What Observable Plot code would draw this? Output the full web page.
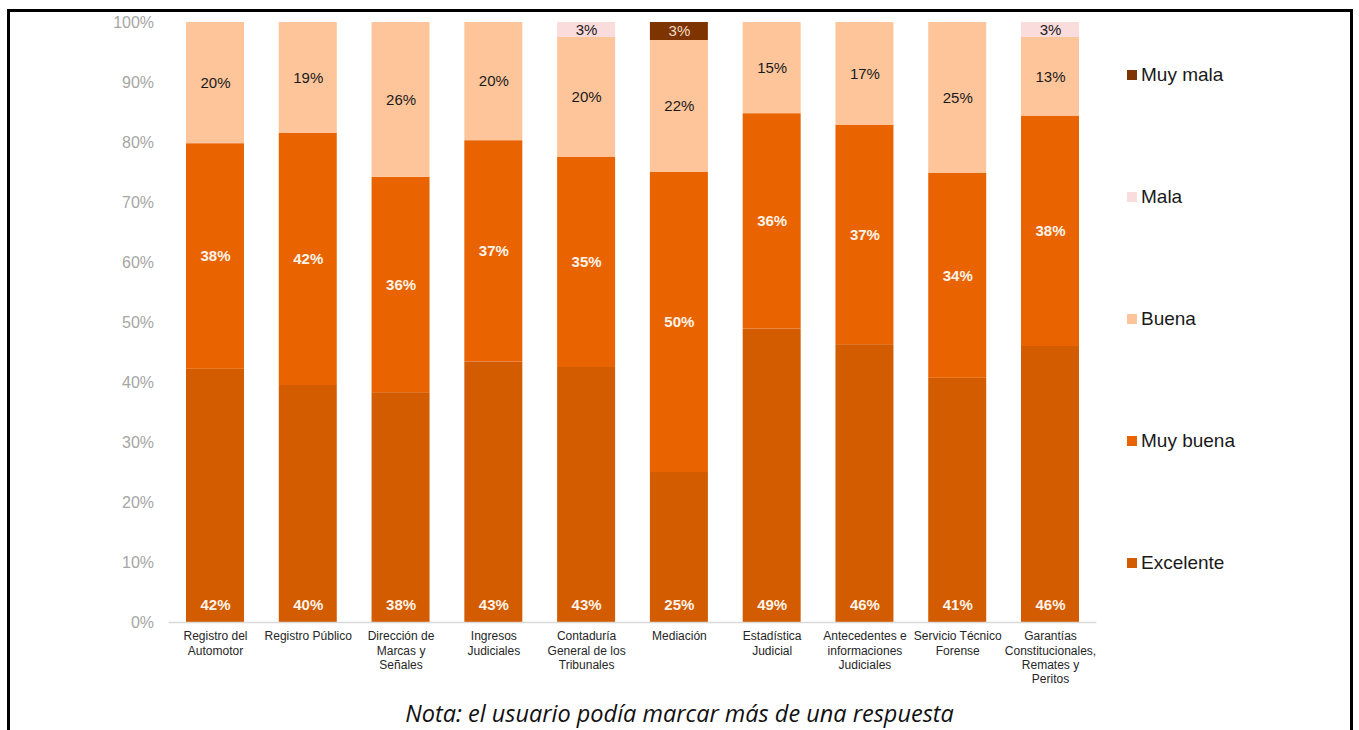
<!DOCTYPE html>
<html>
<head>
<meta charset="utf-8">
<script src="https://cdn.jsdelivr.net/npm/d3@7"></script>
<script src="https://cdn.jsdelivr.net/npm/@observablehq/plot@0.6"></script>
<style>
  html, body { margin: 0; padding: 0; background: #fff; }
  body { width: 1359px; height: 730px; position: relative; overflow: hidden; font-family: "Liberation Sans", Arial, sans-serif; }
  #frame { position: absolute; left: 7px; top: 9px; width: 1346px; height: 760px; border: 3px solid #000; box-sizing: border-box; }
  #chart { position: absolute; left: 0; top: 0; }
  #legend { position: absolute; left: 1127px; top: 0; }
  .item { position: absolute; left: 0; white-space: nowrap; font-size: 19px; color: #1a1a1a; display: flex; align-items: center; height: 22px; }
  .sw { width: 10px; height: 10px; margin-right: 4px; }
  #note { position: absolute; left: 0; width: 1359px; top: 697px; text-align: center; font-family: "Open Sans", sans-serif; font-style: italic; font-size: 23.5px; line-height: 32px; color: #111; }
</style>
</head>
<body>
<div id="frame"></div>
<div id="chart"></div>
<div id="legend"></div>
<div id="note">Nota: el usuario podía marcar más de una respuesta</div>
<script>
const categories = ["Registro del Automotor", "Registro Público", "Dirección de Marcas y Señales", "Ingresos Judiciales", "Contaduría General de los Tribunales", "Mediación", "Estadística Judicial", "Antecedentes e informaciones Judiciales", "Servicio Técnico Forense", "Garantías Constitucionales, Remates y Peritos"];
const tickLabels = ["Registro del\nAutomotor", "Registro Público", "Dirección de\nMarcas y\nSeñales", "Ingresos\nJudiciales", "Contaduría\nGeneral de los\nTribunales", "Mediación", "Estadística\nJudicial", "Antecedentes e\ninformaciones\nJudiciales", "Servicio Técnico\nForense", "Garantías\nConstitucionales,\nRemates y\nPeritos"];
const series = ["Excelente", "Muy buena", "Buena", "Mala", "Muy mala"];
const excelente = [42.2, 39.5, 38.3, 43.4, 42.5, 25.0, 48.9, 46.3, 40.7, 46.0];
const muyBuena  = [37.6, 42.0, 35.9, 36.9, 35.0, 50.0, 35.9, 36.6, 34.2, 38.4];
const buena     = [20.2, 18.5, 25.8, 19.7, 20.0, 22.0, 15.2, 17.1, 25.1, 13.1];
const mala      = [0, 0, 0, 0, 2.5, 0, 0, 0, 0, 2.5];
const muyMala   = [0, 0, 0, 0, 0, 3.0, 0, 0, 0, 0];
const yTicks = [0, 10, 20, 30, 40, 50, 60, 70, 80, 90, 100];
const legendOrder = ["Muy mala", "Mala", "Buena", "Muy buena", "Excelente"];

const colors = {"Excelente": "#d35b00", "Muy buena": "#e96300", "Buena": "#fec59a", "Mala": "#fbdcdc", "Muy mala": "#7d3400"};
const labelColors = {"Excelente": "#fff3ea", "Muy buena": "#fff3ea", "Buena": "#1a1a1a", "Mala": "#1a1a1a", "Muy mala": "#f4dcc8"};

const valuesBySeries = [excelente, muyBuena, buena, mala, muyMala];
const data = [];
categories.forEach((c, i) => {
  series.forEach((s, j) => {
    const v = valuesBySeries[j][i];
    if (v > 0) data.push({cat: c, series: s, value: v});
  });
});
const stackOpts = {x: "cat", y: "value", z: "series", order: series};
const pct = d => Math.round(d.value) + "%";

const plot = Plot.plot({
  width: 1359,
  height: 700,
  marginLeft: 168.6,
  marginRight: 262.6,
  marginTop: 22,
  marginBottom: 78,
  style: {fontFamily: "'Liberation Sans', Arial, sans-serif", background: "transparent"},
  x: {domain: categories, paddingInner: 0.375, paddingOuter: 0.1875, round: false, label: null},
  y: {domain: [0, 100], label: null},
  color: {domain: series, range: series.map(s => colors[s])},
  marks: [
    Plot.barY(data, Plot.stackY({...stackOpts, fill: "series"})),
    Plot.ruleY([0], {stroke: "#d9d9d9", strokeWidth: 1.5}),
    // bold labels (Muy buena) centred in segment
    Plot.text(data, Plot.stackY({
      ...stackOpts,
      text: d => d.series === "Muy buena" ? pct(d) : "",
      fill: labelColors["Muy buena"], fontWeight: "bold", fontSize: 15
    })),
    // regular labels (Buena, Mala, Muy mala) centred in segment
    Plot.text(data, Plot.stackY({
      ...stackOpts,
      text: d => (d.series === "Excelente" || d.series === "Muy buena") ? "" : pct(d),
      fill: d => labelColors[d.series], fontSize: 15
    })),
    // Excelente labels at the base
    Plot.text(data.filter(d => d.series === "Excelente"), {
      x: "cat", y: 0, dy: -17,
      text: pct,
      fill: labelColors["Excelente"], fontWeight: "bold", fontSize: 15
    }),
    Plot.axisY({ticks: yTicks, tickFormat: d => d + "%", tickSize: 0, tickPadding: 15, fontSize: 16, fill: "#a6a6a6", label: null}),
    Plot.axisX({tickSize: 0, tickPadding: 8, fontSize: 12, fill: "#262626", lineHeight: 1.17, label: null,
      tickFormat: d => tickLabels[categories.indexOf(d)], textAnchor: "middle", lineAnchor: "top"})
  ]
});
document.getElementById("chart").appendChild(plot);

const legend = document.getElementById("legend");
legendOrder.forEach((s, i) => {
  const it = document.createElement("div");
  it.className = "item";
  it.style.top = (75 + i * 122 - 11) + "px";
  it.innerHTML = `<span class="sw" style="background:${colors[s]}"></span><span>${s}</span>`;
  legend.appendChild(it);
});
</script>
</body>
</html>
